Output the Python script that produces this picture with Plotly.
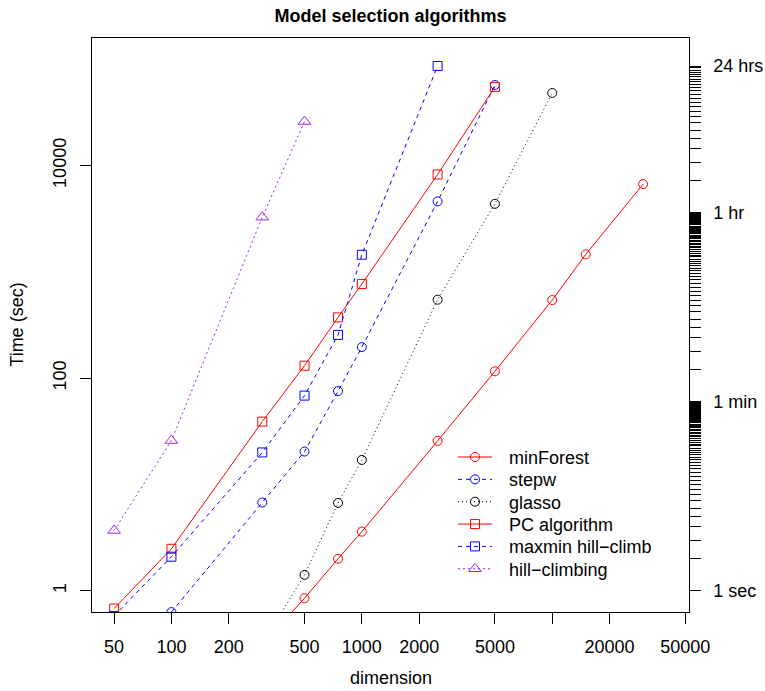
import plotly.graph_objects as go
import numpy as np

# ---- data ----
minforest_x = [300, 500, 750, 1000, 2500, 5000, 10000, 15000, 30000]
minforest_y = [0.31, 0.85, 2.0, 3.6, 25.7, 116, 543, 1460, 6690]

stepw_x = [100, 300, 500, 750, 1000, 2500, 5000]
stepw_y = [0.63, 6.76, 20.4, 75.5, 196, 4600, 57300]

glasso_x = [300, 500, 750, 1000, 2500, 5000, 10000]
glasso_y = [0.32, 1.41, 6.7, 17.0, 547, 4365, 48200]

pc_x = [50, 100, 300, 500, 750, 1000, 2500, 5000]
pc_y = [0.68, 2.48, 39, 131, 373, 768, 8245, 54900]

mmhc_x = [50, 100, 300, 500, 750, 1000, 2500]
mmhc_y = [0.58, 2.09, 20, 68.5, 255, 1448, 86500]

hc_x = [50, 100, 300, 500]
hc_y = [3.69, 25.9, 3270, 25950]

x_ticks = [50, 100, 200, 500, 1000, 2000, 5000, 10000, 20000, 50000]
x_ticklabels = ["50", "100", "200", "500", "1000", "2000", "5000", "", "20000", "50000"]
y_ticks = [1, 100, 10000]
y_ticklabels = ["1", "100", "10000"]

# right axis: seconds, minutes, hours
right_ticks = list(range(1, 60)) + [60 * m for m in range(1, 60)] + [3600 * h for h in range(1, 25)]
right_labels_map = {1: "1 sec", 60: "1 min", 3600: "1 hr", 86400: "24 hrs"}
PAD = "\u00a0\u2009"
right_ticklabels = [(PAD + right_labels_map[v]) if v in right_labels_map else "" for v in right_ticks]

FONT = "Liberation Sans, Arial, Helvetica, sans-serif"
RED = "#FF0000"
BLUE = "#0000FF"
BLACK = "#000000"
PURPLE = "#A020F0"

series = [
    ("minForest", minforest_x, minforest_y, RED, "solid", "circle-open", 9),
    ("stepw", stepw_x, stepw_y, BLUE, "4px,4px", "circle-open", 9),
    ("glasso", glasso_x, glasso_y, BLACK, "1px,3px", "circle-open", 9),
    ("PC algorithm", pc_x, pc_y, RED, "solid", "square-open", 9),
    ("maxmin hill\u2212climb", mmhc_x, mmhc_y, BLUE, "4px,4px", "square-open", 9),
    ("hill\u2212climbing", hc_x, hc_y, PURPLE, "2px,3px", "triangle-up-open", 11),
]

# figure geometry (page body margin removed below)
W, H = 765, 691
L, R, T, B = 92, 76, 38, 79

fig = go.Figure()
for name, xs, ys, col, dash, sym, sz in series:
    fig.add_trace(go.Scatter(
        x=xs, y=ys, name=name, mode="lines+markers", showlegend=False,
        line=dict(color=col, width=1, dash=dash),
        marker=dict(symbol=sym, size=sz, color=col, line=dict(color=col, width=1)),
    ))

# invisible trace for right axis
fig.add_trace(go.Scatter(x=[100], y=[1], yaxis="y2", mode="markers",
                         marker=dict(opacity=0), showlegend=False, hoverinfo="skip"))

# ---- manual legend (R style, no box) in plot-pixel coordinates ----
leg_line = (458, 492)
leg_mark = 475
leg_text = 507
leg_y0, leg_dy = 457, 22.35
annotations = []
for i, (name, xs, ys, col, dash, sym, sz) in enumerate(series):
    yy = leg_y0 + i * leg_dy
    fig.add_trace(go.Scatter(x=list(leg_line), y=[yy, yy], xaxis="x2", yaxis="y3",
                             mode="lines", line=dict(color=col, width=1, dash=dash),
                             showlegend=False, hoverinfo="skip"))
    fig.add_trace(go.Scatter(x=[leg_mark], y=[yy], xaxis="x2", yaxis="y3",
                             mode="markers",
                             marker=dict(symbol=sym, size=sz, color=col, line=dict(color=col, width=1)),
                             showlegend=False, hoverinfo="skip"))
    annotations.append(dict(text=name, x=leg_text, xref="x2", y=yy + 1, yref="y3",
                            showarrow=False, xanchor="left", yanchor="middle",
                            font=dict(size=18, color="black")))

xr = [np.log10(50) - 0.04 * (np.log10(40000) - np.log10(50)),
      np.log10(40000) + 0.04 * (np.log10(40000) - np.log10(50))]
yr = [-0.2, 5.2]

annotations += [
    dict(text="dimension", x=0.5, xref="paper", y=(612 - 678) / 574, yref="paper",
         showarrow=False, xanchor="center", yanchor="middle", font=dict(size=18)),
    dict(text="Time (sec)", x=(16.7 - 92) / 597, xref="paper", y=0.5, yref="paper",
         showarrow=False, xanchor="center", yanchor="middle", textangle=-90,
         font=dict(size=18)),
]

fig.update_layout(
    width=W, height=H,
    margin=dict(l=L, r=R, t=T, b=B, pad=0, autoexpand=False),
    paper_bgcolor="white", plot_bgcolor="white",
    font=dict(family=FONT, size=18, color="black"),
    showlegend=False,
    title=dict(text="<b>Model selection algorithms</b>", x=0.5, xref="paper", xanchor="center",
               y=1 - 16 / H, yref="container", yanchor="middle",
               font=dict(family=FONT, size=18, color="black")),
    xaxis=dict(type="log", range=xr, tickvals=x_ticks, ticktext=x_ticklabels,
               showgrid=False, zeroline=False, showline=True, mirror=True,
               linecolor="black", linewidth=1, ticks="outside", ticklen=11,
               tickcolor="black", tickwidth=1, tickfont=dict(size=18),
               ticklabelstandoff=7, automargin=False),
    yaxis=dict(type="log", range=yr, tickvals=y_ticks, ticktext=y_ticklabels,
               showgrid=False, zeroline=False, showline=True, mirror=True,
               linecolor="black", linewidth=1, ticks="outside", ticklen=11,
               tickcolor="black", tickwidth=1, tickangle=-90, tickfont=dict(size=18),
               ticklabelstandoff=7, automargin=False),
    yaxis2=dict(type="log", range=yr, overlaying="y", side="right", anchor="x",
                tickvals=right_ticks, ticktext=right_ticklabels,
                showgrid=False, zeroline=False, showline=False,
                ticks="outside", ticklen=11, tickcolor="black", tickwidth=1,
                tickfont=dict(size=18), automargin=False),
    xaxis2=dict(overlaying="x", anchor="y3", range=[92, 689], visible=False,
                showgrid=False, zeroline=False, automargin=False),
    yaxis3=dict(overlaying="y", anchor="x2", range=[612, 38], visible=False,
                showgrid=False, zeroline=False, automargin=False),
    annotations=annotations,
)

fig.write_html("out.html",
               config={"displayModeBar": False, "staticPlot": True},
               post_script="document.body.style.margin='0px';document.body.style.overflow='hidden';")
